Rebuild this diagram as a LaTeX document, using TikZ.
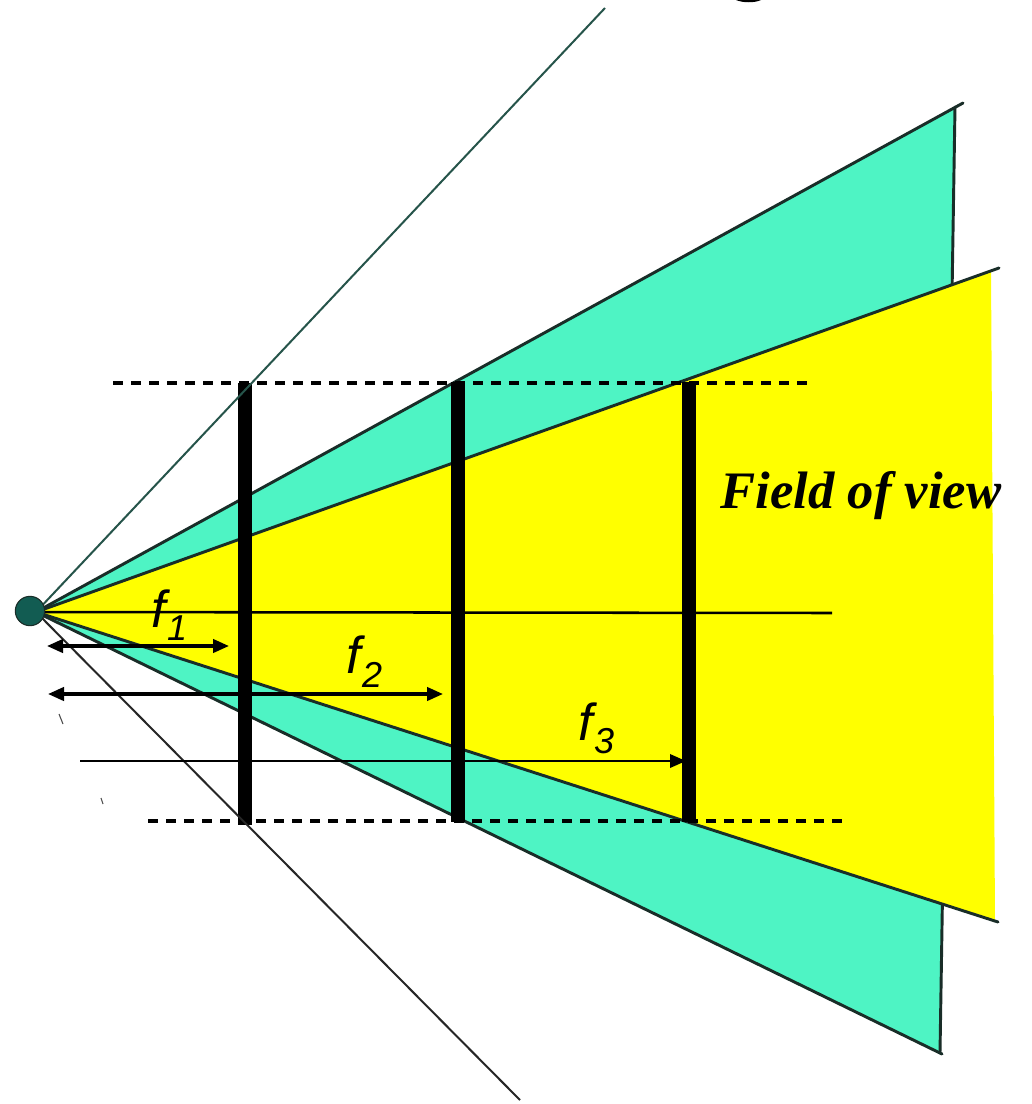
\documentclass[tikz,border=0pt]{standalone}
\usepackage{fontspec}
\setmainfont{Liberation Serif}
\newfontfamily\arialfont{Liberation Sans}
\usetikzlibrary{arrows.meta}
\definecolor{wedgeteal}{RGB}{78,244,196}
\definecolor{wedgeyellow}{RGB}{255,255,0}
\definecolor{dotteal}{RGB}{18,92,82}
\definecolor{raygreen}{RGB}{38,84,74}
\definecolor{edgedark}{RGB}{25,45,40}
\begin{document}
\begin{tikzpicture}[x=0.75pt,y=-0.75pt,
  edge/.style={draw=edgedark,line width=2.2pt,line cap=round},
  ray/.style={line width=1.5pt},
  dashline/.style={line width=2.3pt,dash pattern=on 7.5pt off 6pt},
  bar/.style={line width=9.8pt},
  tip/.style={},
  dimarrow/.style={line width=2.4pt,-{Triangle[length=12pt,width=10pt]}},
  dimboth/.style={line width=2.4pt,{Triangle[length=12pt,width=10pt]}-{Triangle[length=12pt,width=10pt]}},
  flab/.style={anchor=base west,inner sep=0pt,font=\arialfont\itshape\fontsize{39}{39}\selectfont},
  fov/.style={anchor=base,inner sep=0pt,font=\fontsize{39.5}{40}\selectfont\bfseries\itshape}]
\useasboundingbox (0,0) rectangle (1032,1104);
\fill[white] (0,0) rectangle (1032,1104);

% key points
\coordinate (A) at (36,612);
\coordinate (TT) at (955,107);
\coordinate (TTx) at (963,103);
\coordinate (TB) at (940,1053);
\coordinate (TBx) at (942,1054);
\coordinate (YT) at (991,271);
\coordinate (YTx) at (999,268);
\coordinate (YB) at (995,920);
\coordinate (YBx) at (998,922);
\coordinate (RU) at (605,8);
\coordinate (RL) at (520,1100);

% teal wedge
\fill[wedgeteal] (A) -- (TT) -- (TB) -- cycle;
\draw[edge] (A) -- (TTx);
\draw[edge] (TT) -- (TB);
\draw[edge] (A) -- (TBx);

% yellow wedge
\fill[wedgeyellow] (A) -- (YT) -- (YB) -- cycle;
\draw[edge] (A) -- (YTx);
\draw[edge] (A) -- (YBx);

% optical axis
\coordinate (AX) at (832,613);
\draw[line width=1.9pt] (A) -- (AX);

% dashed limits
\coordinate (DT1) at (113,383);
\coordinate (DT2) at (815,383);
\coordinate (DB1) at (148,821);
\coordinate (DB2) at (848,821);
\draw[dashline] (DT1) -- (DT2);
\draw[dashline] (DB1) -- (DB2);

% image planes
\coordinate (B1t) at (245,383); \coordinate (B1b) at (245,825);
\coordinate (B2t) at (458,382); \coordinate (B2b) at (458,822);
\coordinate (B3t) at (689,382); \coordinate (B3b) at (689,822);
\draw[bar] (B1t) -- (B1b);
\draw[bar] (B2t) -- (B2b);
\draw[bar] (B3t) -- (B3b);

% rays of the widest view
\draw[ray,raygreen] (A) -- (RU);
\draw[ray,black!85] (A) -- (RL);

% focal distances
\coordinate (F1a) at (47,646); \coordinate (F1b) at (229,646);
\coordinate (F2a) at (48,694); \coordinate (F2b) at (443,694);
\coordinate (F3a) at (80,761); \coordinate (F3b) at (686,761);
\draw[dimboth] (F1a) -- (F1b);
\draw[dimboth] (F2a) -- (F2b);
\draw[dimarrow,line width=1.9pt] (F3a) -- (F3b);

\node[flab] (f1) at (151,627) {f\kern1pt\raisebox{-10pt}{\fontsize{27}{27}\selectfont 1}};
\node[flab] (f2) at (346,673) {f\kern1pt\raisebox{-11pt}{\fontsize{27}{27}\selectfont 2}};
\node[flab] (f3) at (578,740) {f\kern1pt\raisebox{-10pt}{\fontsize{27}{27}\selectfont 3}};

\node[fov] (fovlabel) at (861,508) {Field of view};

% small stray marks
\draw[line width=0.8pt,black!70] (59,714) -- (63,724);
\draw[line width=0.8pt,black!70] (101,798) -- (103,804);
\fill[black] (736,0) .. controls (743,3) and (755,3) .. (761,0) -- cycle;

% viewpoint
\node[circle,fill=dotteal,draw=edgedark,line width=0.8pt,minimum size=22pt,inner sep=0pt] (eye) at (30,611) {};
\end{tikzpicture}
\end{document}
